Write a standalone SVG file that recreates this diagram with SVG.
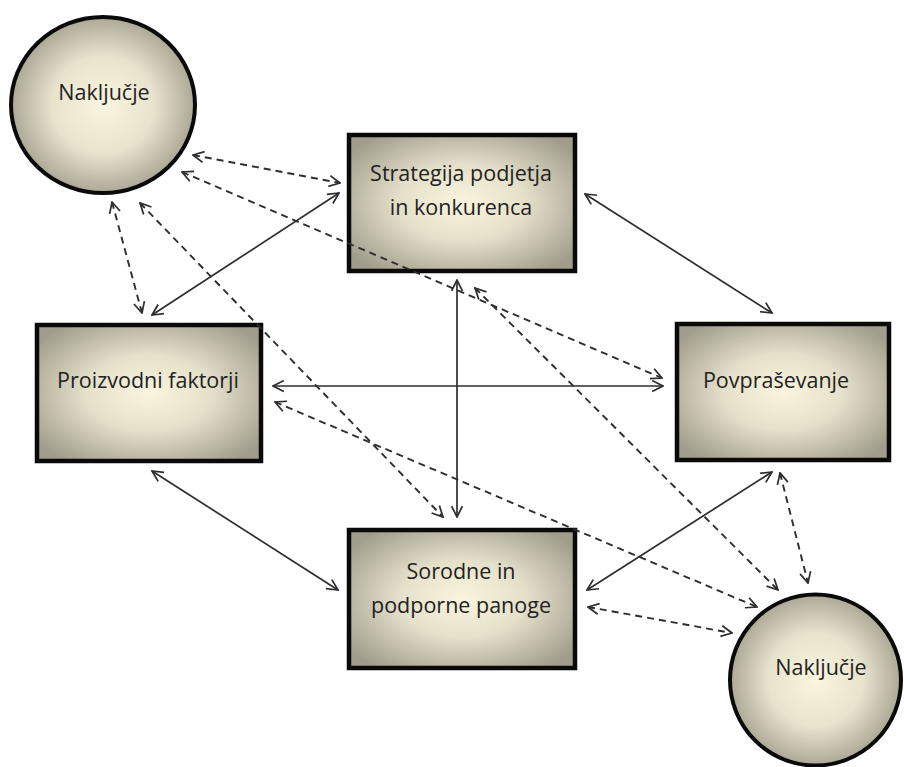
<svg xmlns="http://www.w3.org/2000/svg" width="904" height="767" viewBox="0 0 904 767">
  <defs>
    <radialGradient id="boxFill" cx="0.5" cy="0.5" r="0.62">
      <stop offset="0" stop-color="#faf5df"/>
      <stop offset="0.45" stop-color="#e5e0ca"/>
      <stop offset="1" stop-color="#a09d8c"/>
    </radialGradient>
    <radialGradient id="ballFill" cx="0.5" cy="0.5" r="0.5">
      <stop offset="0" stop-color="#faf5df"/>
      <stop offset="0.55" stop-color="#e8e3cd"/>
      <stop offset="1" stop-color="#aca896"/>
    </radialGradient>
    <marker id="tip" viewBox="0 0 12 12" refX="11" refY="6" markerWidth="13" markerHeight="13" markerUnits="userSpaceOnUse" orient="auto-start-reverse">
      <path d="M1,1 L11,6 L1,11" fill="none" stroke="#2e2e2e" stroke-width="1.6" stroke-linejoin="miter"/>
    </marker>
  </defs>
  <style>
    .box { fill: url(#boxFill); stroke: #0a0a0a; stroke-width: 4.5; }
    .ball { fill: url(#ballFill); stroke: #0a0a0a; stroke-width: 4; }
    .label { font-family: "Open Sans", "Noto Sans", sans-serif; font-size: 21.5px; fill: #222222; text-anchor: middle; }
    .solid { stroke: #2e2e2e; stroke-width: 1.7; fill: none; marker-start: url(#tip); marker-end: url(#tip); }
    .dash { stroke: #2e2e2e; stroke-width: 1.9; fill: none; stroke-dasharray: 7 5; marker-start: url(#tip); marker-end: url(#tip); }
  </style>

  <rect width="904" height="767" fill="#ffffff"/>

  <!-- nodes -->
  <g id="nakljucje-top">
    <ellipse class="ball" cx="103" cy="105" rx="92" ry="88"/>
    <text class="label" x="104" y="100">Naključje</text>
  </g>
  <g id="strategija">
    <rect class="box" x="349" y="135" width="226" height="136"/>
    <text class="label" x="461" y="181">Strategija podjetja</text>
    <text class="label" x="461" y="215">in konkurenca</text>
  </g>
  <g id="proizvodni">
    <rect class="box" x="37" y="325" width="224" height="136"/>
    <text class="label" x="148" y="388">Proizvodni faktorji</text>
  </g>
  <g id="povprasevanje">
    <rect class="box" x="677" y="324" width="212" height="136"/>
    <text class="label" x="776" y="388">Povpraševanje</text>
  </g>
  <g id="sorodne">
    <rect class="box" x="349" y="530" width="226" height="138"/>
    <text class="label" x="461" y="579">Sorodne in</text>
    <text class="label" x="461" y="613">podporne panoge</text>
  </g>
  <g id="nakljucje-bottom">
    <circle class="ball" cx="815.5" cy="680" r="85.5"/>
    <text class="label" x="821" y="675">Naključje</text>
  </g>

  <!-- connectors: solid = direct links, dashed = chance influences -->
  <g id="connectors">
    <line class="solid" x1="339" y1="193" x2="152" y2="315"/>
    <line class="solid" x1="585" y1="194" x2="772" y2="313"/>
    <line class="solid" x1="457" y1="280" x2="457" y2="517"/>
    <line class="solid" x1="273" y1="386" x2="663" y2="386"/>
    <line class="solid" x1="152" y1="471" x2="338" y2="590"/>
    <line class="solid" x1="587" y1="590" x2="772" y2="472"/>

    <line class="dash" x1="193" y1="155" x2="340" y2="183"/>
    <line class="dash" x1="182" y1="172" x2="662" y2="378"/>
    <line class="dash" x1="112" y1="202" x2="142" y2="313"/>
    <line class="dash" x1="140" y1="203" x2="443" y2="517"/>
    <line class="dash" x1="475" y1="288" x2="778" y2="590"/>
    <line class="dash" x1="275" y1="402" x2="757" y2="607"/>
    <line class="dash" x1="780" y1="473" x2="808" y2="583"/>
    <line class="dash" x1="588" y1="607" x2="732" y2="633"/>
  </g>
</svg>
